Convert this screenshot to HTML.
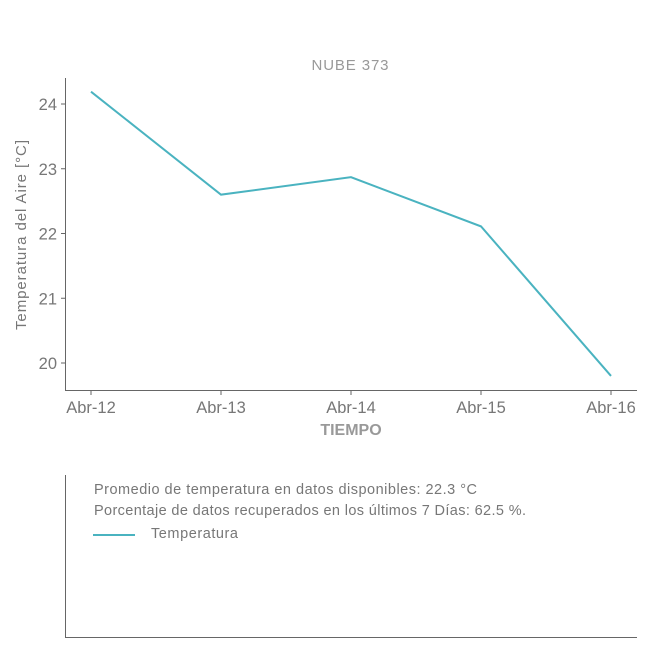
<!DOCTYPE html>
<html><head><meta charset="utf-8"><style>
body{margin:0;background:#fff;font-family:"Liberation Sans",sans-serif}
svg text{font-family:"Liberation Sans",sans-serif}
</style></head><body>
<svg id="c" width="650" height="650">
<text x="350" y="70" text-anchor="middle" font-size="15" fill="#999" textLength="77">NUBE 373</text>
<text transform="translate(26,235) rotate(-90)" text-anchor="middle" font-size="15" fill="#777" textLength="190">Temperatura del Aire [°C]</text>
<text x="351" y="435" text-anchor="middle" font-size="16" font-weight="bold" fill="#999">TIEMPO</text>
<line x1="65.5" y1="78" x2="65.5" y2="390.5" stroke="#666"/>
<line x1="65" y1="390.5" x2="637" y2="390.5" stroke="#666"/>
<g id="ticks"></g>
<path id="line" fill="none" stroke="#4ab3c0" stroke-width="2"/>
<line x1="65.5" y1="475" x2="65.5" y2="637.5" stroke="#666"/>
<line x1="65" y1="637.5" x2="637" y2="637.5" stroke="#666"/>
<text x="94" y="494" font-size="14.5" fill="#777" textLength="383">Promedio de temperatura en datos disponibles: 22.3 °C</text>
<text x="94" y="515" font-size="14.5" fill="#777" textLength="432">Porcentaje de datos recuperados en los últimos 7 Días: 62.5 %.</text>
<line x1="93" y1="535" x2="135" y2="535" stroke="#4ab3c0" stroke-width="2"/>
<text x="151" y="538" font-size="14.5" fill="#777" textLength="87">Temperatura</text>
</svg>
<script>
const categories=["Abr-12","Abr-13","Abr-14","Abr-15","Abr-16"];
const temps=[24.19,22.6,22.87,22.11,19.8];
const yTicks=[20,21,22,23,24];
function xs(i){return 91+i*130;}
function ys(v){return 363-(v-20)*64.75;}
const NS="http://www.w3.org/2000/svg";
const g=document.getElementById('ticks');
function mk(t,a){const e=document.createElementNS(NS,t);for(const k in a)e.setAttribute(k,a[k]);g.appendChild(e);return e;}
yTicks.forEach(v=>{
 const l=mk('line',{x1:61,x2:65,y1:ys(v),y2:ys(v),stroke:'#666'});
 
 
 const t=mk('text',{x:57,y:ys(v)+6,'text-anchor':'end','font-size':16.5,fill:'#777'});
 t.textContent=v;
 
 
});
categories.forEach((c,i)=>{
 const l=mk('line',{x1:xs(i),x2:xs(i),y1:391,y2:395,stroke:'#666'});
 
 
 const t=mk('text',{x:xs(i),y:413,'text-anchor':'middle','font-size':16.5,fill:'#777'});
 t.textContent=c;
 
 
});
document.getElementById('line').setAttribute('d',temps.map((v,i)=>(i?'L':'M')+xs(i)+','+ys(v)).join(''));
</script>
</body></html>
